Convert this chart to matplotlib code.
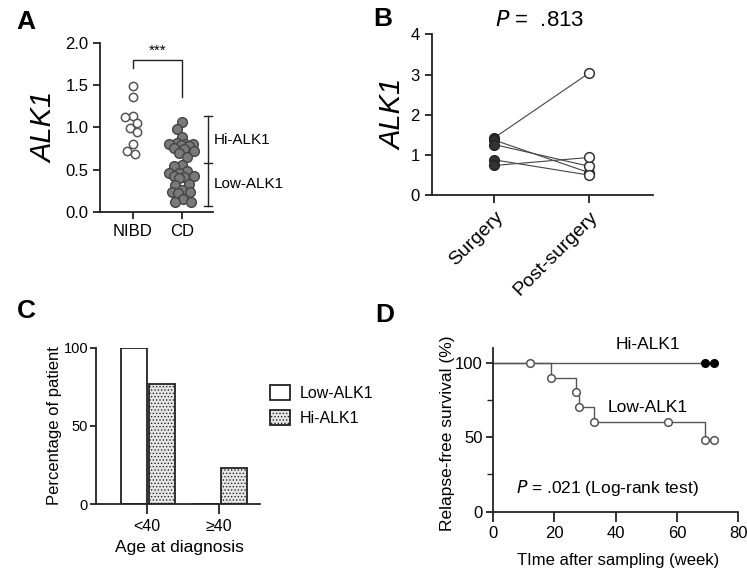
import numpy as np
import matplotlib
matplotlib.use("Agg")
import matplotlib.pyplot as plt

plt.rcParams['font.family'] = ['Liberation Sans', 'DejaVu Sans']
plt.rcParams['hatch.linewidth'] = 0.6
plt.rcParams['hatch.color'] = '#8a8a8a'

# ---------------- data ----------------
# Panel A
a_groups = ['NIBD', 'CD']
nibd_vals = [1.49, 1.36, 1.14, 1.12, 1.05, 0.99, 0.94, 0.80, 0.72, 0.68]
cd_vals = [1.06, 0.98, 0.89, 0.81, 0.80, 0.80, 0.80, 0.79, 0.78, 0.75, 0.74,
           0.72, 0.70, 0.65, 0.55, 0.54, 0.48, 0.46, 0.46, 0.43, 0.42, 0.41,
           0.40, 0.33, 0.32, 0.26, 0.23, 0.23, 0.22, 0.15, 0.12, 0.12]
a_bracket = [1.70, 1.80, 1.36]       # left leg end, bar, right leg end
a_range = [0.07, 0.58, 1.13]         # low end, cutoff, high end
a_yticks = [0.0, 0.5, 1.0, 1.5, 2.0]

# Panel B
b_groups = ['Surgery', 'Post-surgery']
b_surgery = [1.43, 1.37, 1.26, 0.88, 0.74]
b_post = [3.04, 0.56, 0.72, 0.50, 0.94]
b_yticks = [0, 1, 2, 3, 4]

# Panel C
c_groups = ['<40', '≥40']
c_low = [100, 0]
c_hi = [77, 23]
c_yticks = [0, 50, 100]

# Panel D
d_low_t = [0, 19, 27, 28, 33, 69, 72]
d_low_s = [100, 90, 80, 70, 60, 48, 48]
d_low_cens_t = [12, 19, 27, 28, 33, 57, 69, 72]
d_low_cens_s = [100, 90, 80, 70, 60, 60, 48, 48]
d_hi_t = [0, 72]
d_hi_s = [100, 100]
d_hi_cens_t = [69, 72]
d_hi_cens_s = [100, 100]
d_xticks = [0, 20, 40, 60, 80]
d_yticks = [0, 50, 100]

# ---------------- figure ----------------
fig = plt.figure(figsize=(7.47, 5.71), dpi=100)
DARK = '#222222'
LW = 1.3


def style(ax):
    for s in ['top', 'right']:
        ax.spines[s].set_visible(False)
    for s in ['left', 'bottom']:
        ax.spines[s].set_linewidth(LW)
        ax.spines[s].set_color(DARK)
    ax.tick_params(width=LW, length=5, color=DARK, labelcolor='black')


def swarm(ax, vals, center, diam_px, max_px):
    """bounded beeswarm: returns x positions in data coords"""
    fig.canvas.draw()
    tr = ax.transData
    ys = [tr.transform((center, v))[1] for v in vals]
    cx = tr.transform((center, 0))[0]
    cands = sorted(np.arange(-max_px, max_px + 0.01, 0.5), key=lambda d: (abs(d), d))
    placed = []
    res = [None] * len(vals)
    for i in np.argsort(ys)[::-1]:
        y = ys[i]
        best, best_d = None, -1
        for d in cands:
            x = cx + d
            md = min([np.hypot(x - px, y - py) for px, py in placed] or [1e9])
            if md >= diam_px:
                best = x
                break
            if md > best_d + 0.3:
                best_d, best = md, x
        placed.append((best, y))
        res[i] = tr.inverted().transform((best, y))[0]
    return res


# ---------- Panel A ----------
axA = fig.add_axes([0.134, 0.629, 0.151, 0.296])
style(axA)
axA.set_xlim(-0.67, 1.63)
axA.set_ylim(0, 2.0)
axA.set_yticks(a_yticks)
axA.set_yticklabels([f'{v:.1f}' for v in a_yticks])
axA.set_xticks([0, 1])
axA.set_xticklabels(a_groups)
axA.tick_params(labelsize=12)
xn = swarm(axA, nibd_vals, 0, 8.5, 8)
xc = swarm(axA, cd_vals, 1, 8.0, 13)
axA.plot(xn, nibd_vals, 'o', ms=6, mfc='white', mec='#555555', mew=1.1, ls='none', clip_on=False)
axA.plot(xc, cd_vals, 'o', ms=7, mfc='#7a7a7a', mec='#444444', mew=1.0, ls='none', clip_on=False)
axA.plot([0, 0, 1, 1], [a_bracket[0], a_bracket[1], a_bracket[1], a_bracket[2]],
         color=DARK, lw=1.0, clip_on=False)
axA.text(0.5, a_bracket[1] + 0.02, '***', ha='center', va='bottom', fontsize=11)
xr = 1.53
axA.plot([xr, xr], [a_range[0], a_range[2]], color=DARK, lw=1.0, clip_on=False)
for yv in a_range:
    axA.plot([xr - 0.08, xr + 0.08], [yv, yv], color=DARK, lw=1.0, clip_on=False)
axA.text(1.64, (a_range[1] + a_range[2]) / 2, 'Hi-ALK1', fontsize=11, va='center', ha='left')
axA.text(1.64, (a_range[0] + a_range[1]) / 2, 'Low-ALK1', fontsize=11, va='center', ha='left')
axA.set_ylabel('ALK1', fontsize=21, style='italic')
axA.yaxis.set_label_coords(-0.37, 0.5)
fig.text(0.022, 0.962, 'A', fontsize=19, fontweight='bold', va='center', ha='left')

# ---------- Panel B ----------
axB = fig.add_axes([0.578, 0.658, 0.296, 0.282])
style(axB)
axB.set_xlim(-0.66, 1.67)
axB.set_ylim(0, 4)
axB.set_yticks(b_yticks)
axB.set_xticks([0, 1])
axB.set_xticklabels(b_groups, rotation=45, ha='right', rotation_mode='anchor', fontsize=14)
axB.tick_params(axis='y', labelsize=12)
axB.tick_params(axis='x', length=6)
for s, p in zip(b_surgery, b_post):
    axB.plot([0, 1], [s, p], color='#444444', lw=0.8, zorder=2)
axB.plot([0] * len(b_surgery), b_surgery, 'o', ms=7, mfc='#333333', mec='#222222', ls='none', zorder=3)
axB.plot([1] * len(b_post), b_post, 'o', ms=7, mfc='white', mec='#333333', mew=1.1, ls='none', zorder=3, clip_on=False)
axB.set_ylabel('ALK1', fontsize=21, style='italic')
axB.yaxis.set_label_coords(-0.112, 0.5)
axB.text(0.49, 1.087, r'$\it{P}$ =  .813', fontsize=16, ha='center', va='center',
         transform=axB.transAxes)
fig.text(0.500, 0.966, 'B', fontsize=19, fontweight='bold', va='center', ha='left')

# ---------- Panel C ----------
axC = fig.add_axes([0.129, 0.117, 0.219, 0.274])
style(axC)
axC.set_xlim(-0.70, 1.57)
axC.set_ylim(0, 100)
axC.set_yticks(c_yticks)
xpos = np.arange(len(c_groups))
bw = 0.36
axC.bar(xpos - 0.18, c_low, width=bw, facecolor='white', edgecolor=DARK, lw=1.3, label='Low-ALK1')
axC.bar(xpos + 0.21, c_hi, width=bw, facecolor='#e6e6e6', edgecolor=DARK, lw=1.3,
        hatch='.....', label='Hi-ALK1')
axC.set_xticks(xpos)
axC.set_xticklabels(c_groups)
axC.tick_params(axis='x', length=7, labelsize=11.5)
axC.tick_params(axis='y', length=4, pad=2, labelsize=10.5)
axC.set_ylabel('Percentage of patient', fontsize=12)
axC.yaxis.set_label_coords(-0.213, 0.5)
axC.set_xlabel('Age at diagnosis', fontsize=12.5)
axC.xaxis.set_label_coords(0.51, -0.23)
axC.legend(loc='center left', bbox_to_anchor=(1.02, 0.63), frameon=False, fontsize=11.5,
           handlelength=1.3, handleheight=1.0, handletextpad=0.6, labelspacing=0.6,
           borderaxespad=0.0)
fig.text(0.022, 0.455, 'C', fontsize=19, fontweight='bold', va='center', ha='left')

# ---------- Panel D ----------
axD = fig.add_axes([0.6596, 0.104, 0.3288, 0.287])
style(axD)
axD.set_xlim(0, 80)
axD.set_ylim(0, 110)
axD.set_xticks(d_xticks)
axD.set_yticks(d_yticks)
axD.set_yticks([25, 75], minor=True)
axD.tick_params(axis='y', which='minor', length=4, width=1.0, color=DARK)
axD.tick_params(labelsize=12)
axD.tick_params(axis='x', length=7)
axD.tick_params(axis='y', which='major', pad=2)
axD.step(d_hi_t, d_hi_s, where='post', color='#555555', lw=1.0, clip_on=False)
axD.step(d_low_t, d_low_s, where='post', color='#555555', lw=1.0, clip_on=False)
axD.plot(d_low_cens_t, d_low_cens_s, 'o', ms=5.5, mfc='white', mec='#555555', mew=1.1, ls='none', clip_on=False)
axD.plot(d_hi_cens_t, d_hi_cens_s, 'o', ms=5.5, mfc='black', mec='black', ls='none', clip_on=False)
axD.text(50.5, 112, 'Hi-ALK1', fontsize=12.5, ha='center', va='center')
axD.text(50.5, 70, 'Low-ALK1', fontsize=12.5, ha='center', va='center')
axD.text(37.5, 16, r'$\it{P}$ = .021 (Log-rank test)', fontsize=12.5, ha='center', va='center')
axD.set_ylabel('Relapse-free survival (%)', fontsize=12.5)
axD.yaxis.set_label_coords(-0.153, 0.48)
axD.set_xlabel('TIme after sampling (week)', fontsize=12)
axD.xaxis.set_label_coords(0.51, -0.25)
fig.text(0.503, 0.448, 'D', fontsize=19, fontweight='bold', va='center', ha='left')

fig.savefig('out.png', dpi=100)
